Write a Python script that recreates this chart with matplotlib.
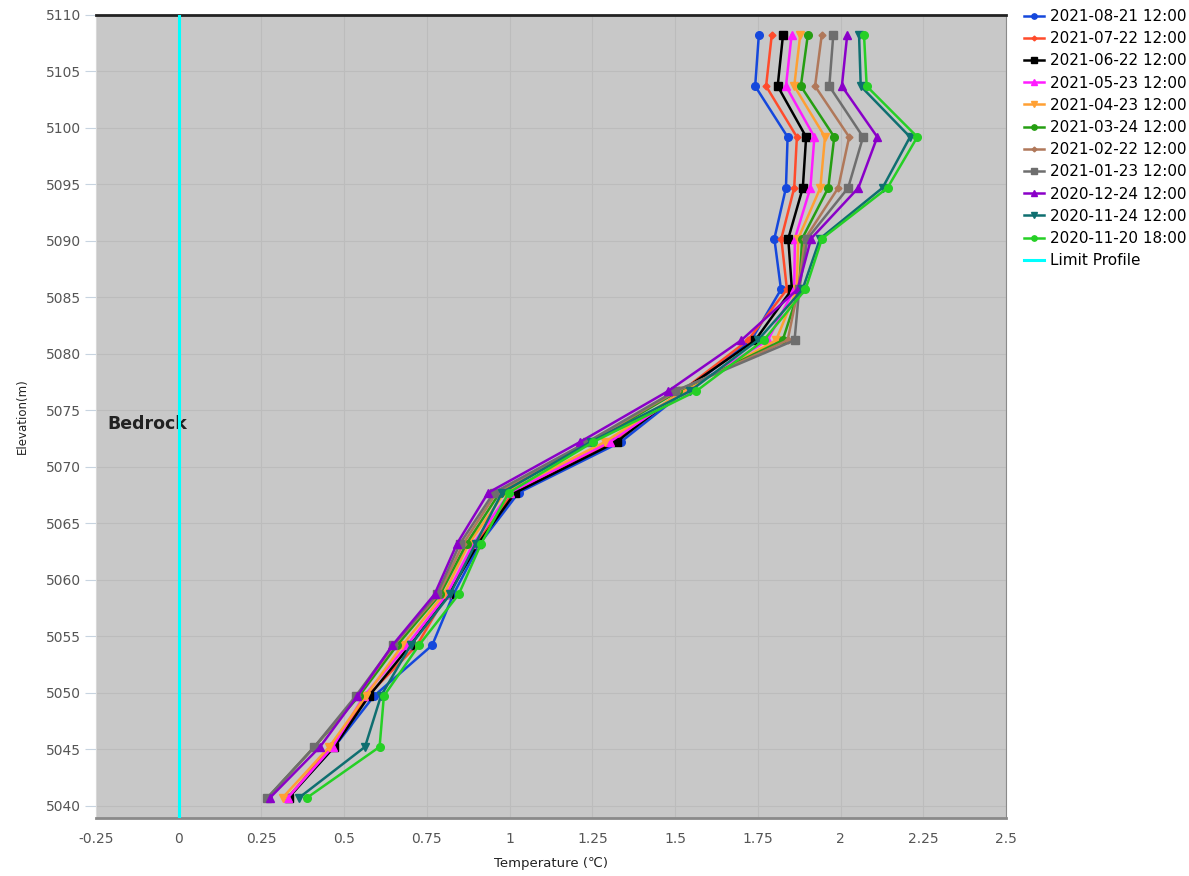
import matplotlib
matplotlib.use('Agg')
import matplotlib.pyplot as plt

# elevation of the measuring points (top -> bottom)
elevation = [5108.2, 5103.7, 5099.2, 5094.7, 5090.2, 5085.7, 5081.2, 5076.7,
             5072.2, 5067.7, 5063.2, 5058.7, 5054.2, 5049.7, 5045.2, 5040.7]

labels = ['2021-08-21 12:00', '2021-07-22 12:00', '2021-06-22 12:00', '2021-05-23 12:00',
          '2021-04-23 12:00', '2021-03-24 12:00', '2021-02-22 12:00', '2021-01-23 12:00',
          '2020-12-24 12:00', '2020-11-24 12:00', '2020-11-20 18:00']

t_0821 = [1.753, 1.742, 1.840, 1.835, 1.800, 1.820, 1.730, 1.530, 1.336, 1.027, 0.910, 0.830, 0.766, 0.590, 0.470, 0.330]
t_0722 = [1.792, 1.775, 1.868, 1.860, 1.821, 1.838, 1.720, 1.520, 1.310, 1.010, 0.900, 0.810, 0.720, 0.570, 0.460, 0.330]
t_0622 = [1.826, 1.810, 1.896, 1.886, 1.842, 1.853, 1.742, 1.520, 1.323, 1.017, 0.905, 0.816, 0.700, 0.575, 0.470, 0.332]
t_0523 = [1.852, 1.835, 1.921, 1.909, 1.862, 1.860, 1.780, 1.530, 1.303, 1.000, 0.890, 0.810, 0.690, 0.560, 0.465, 0.330]
t_0423 = [1.878, 1.860, 1.953, 1.939, 1.872, 1.868, 1.805, 1.524, 1.288, 0.985, 0.877, 0.801, 0.676, 0.565, 0.455, 0.314]
t_0324 = [1.901, 1.880, 1.981, 1.963, 1.884, 1.875, 1.825, 1.510, 1.250, 0.970, 0.870, 0.790, 0.660, 0.545, 0.410, 0.269]
t_0222 = [1.943, 1.923, 2.026, 1.993, 1.893, 1.872, 1.840, 1.505, 1.240, 0.960, 0.860, 0.785, 0.650, 0.540, 0.410, 0.270]
t_0123 = [1.978, 1.966, 2.068, 2.023, 1.900, 1.875, 1.861, 1.499, 1.235, 0.952, 0.850, 0.780, 0.648, 0.535, 0.410, 0.268]
t_1224 = [2.020, 2.004, 2.111, 2.054, 1.911, 1.870, 1.700, 1.479, 1.213, 0.935, 0.841, 0.773, 0.646, 0.540, 0.427, 0.276]
t_1124 = [2.056, 2.061, 2.210, 2.127, 1.938, 1.885, 1.750, 1.545, 1.245, 0.977, 0.897, 0.820, 0.701, 0.611, 0.563, 0.364]
t_1120 = [2.071, 2.079, 2.232, 2.142, 1.944, 1.894, 1.768, 1.564, 1.253, 0.997, 0.914, 0.846, 0.726, 0.620, 0.607, 0.388]

series = [t_0821, t_0722, t_0622, t_0523, t_0423, t_0324, t_0222, t_0123, t_1224, t_1124, t_1120]

limit_temp = [0, 0]
limit_elev = [5110, 5038.9]

colors = ['#1548dc', '#ff4b2b', '#000000', '#ff1cff', '#ffa033', '#259e12',
          '#b0785a', '#6e6e6e', '#8a00c8', '#0f6f70', '#25d025']
markers = ['o', 'D', 's', '^', 'v', 'o', 'D', 's', '^', 'v', 'o']
msizes = [5.5, 3.5, 5.5, 5.5, 5.5, 5.5, 3.5, 5.5, 5.5, 5.5, 5.5]

fig = plt.figure(figsize=(11.89, 8.76), dpi=100)
ax = fig.add_axes([96 / 1189, 1 - 818 / 876, 910 / 1189, 803 / 876])
ax.set_facecolor('#c8c8c8')

for temps, lab, c, m, ms in zip(series, labels, colors, markers, msizes):
    ax.plot(temps, elevation, color=c, marker=m, markersize=ms, linewidth=1.8, label=lab, zorder=3)

ax.plot(limit_temp, limit_elev, color='#00ffff', linewidth=2.2, marker='D', markersize=0,
        label='Limit Profile', zorder=4)

ax.text(-0.215, 5073.8, 'Bedrock', fontsize=12.5, fontweight='bold', color='#222222', va='center')

ax.set_xlim(-0.25, 2.5)
ax.set_ylim(5038.9, 5110)
ax.set_xticks([-0.25, 0, 0.25, 0.5, 0.75, 1, 1.25, 1.5, 1.75, 2, 2.25, 2.5])
ax.set_xticklabels(['-0.25', '0', '0.25', '0.5', '0.75', '1', '1.25', '1.5', '1.75', '2', '2.25', '2.5'])
ax.set_yticks(range(5040, 5111, 5))
ax.grid(True, color='#bcbcbc', linewidth=0.8, zorder=0)
ax.set_axisbelow(True)

ax.spines['top'].set_color('#222222')
ax.spines['top'].set_linewidth(2)
ax.spines['bottom'].set_color('#8a8a8a')
ax.spines['bottom'].set_linewidth(2)
ax.spines['left'].set_color('#d8d8d8')
ax.spines['right'].set_color('#8a8a8a')

ax.tick_params(axis='y', length=8, color='#c8d4e0', labelsize=10, labelcolor='#555555', pad=3)
ax.tick_params(axis='x', length=0, labelsize=10, labelcolor='#555555', pad=10)

ax.set_xlabel('Temperature (℃)', fontsize=9.5, color='#222222', labelpad=8)
ax.set_ylabel('Elevation(m)', fontsize=8.5, color='#222222', labelpad=12)

fig.legend(loc='upper left', bbox_to_anchor=(1018 / 1189, 1 - 3 / 876), frameon=False,
           fontsize=11, handlelength=1.3, handletextpad=0.4, labelspacing=0.47,
           borderaxespad=0, markerscale=0.7)

fig.savefig('out.png', dpi=100)
